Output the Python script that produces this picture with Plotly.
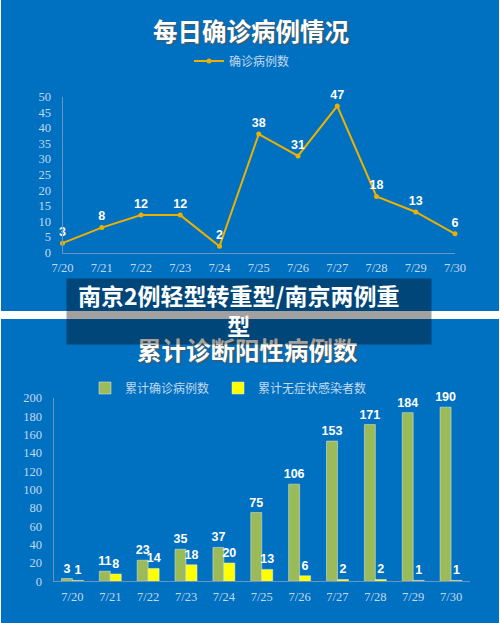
import plotly.graph_objects as go

W, H = 500, 623

dates = ["7/20", "7/21", "7/22", "7/23", "7/24", "7/25", "7/26", "7/27", "7/28", "7/29", "7/30"]
daily = [3, 8, 12, 12, 2, 38, 31, 47, 18, 13, 6]
total = [3, 11, 23, 35, 37, 75, 106, 153, 171, 184, 190]
no_symptom = [1, 8, 14, 18, 20, 13, 6, 2, 2, 1, 1]

BLUE = "#0070c0"
TICK = "#c3d9ee"
AXIS = "#6a93bd"
CJK = "Noto Sans CJK SC"
NUM = "Liberation Sans"
SERIF = "Liberation Serif"


# pixel helpers, the reference was measured in pixels
def px(x):
    return x / W


def py(y):
    return 1 - y / H


fig = go.Figure()

fig.add_trace(go.Scatter(
    x=dates, y=daily, name="确诊病例数", mode="lines+markers+text",
    xaxis="x", yaxis="y", legend="legend", showlegend=True,
    line=dict(color="#ecb000", width=2),
    marker=dict(color="#ecb000", size=5),
    text=daily, textposition="top center",
    textfont=dict(family=NUM, size=12.5, color="white", weight="bold"),
    cliponaxis=False,
))

fig.add_trace(go.Bar(
    x=dates, y=total, name="累计确诊病例数",
    xaxis="x2", yaxis="y2", legend="legend2", showlegend=True,
    marker_color="#9bbb59",
    text=total, textposition="outside", textangle=0, constraintext="none",
    textfont=dict(family=NUM, size=12.5, color="white", weight="bold"),
    cliponaxis=False,
))
fig.add_trace(go.Bar(
    x=dates, y=no_symptom, name="累计无症状感染者数",
    xaxis="x2", yaxis="y2", legend="legend3", showlegend=True,
    marker_color="#ffff00",
    text=no_symptom, textposition="outside", textangle=0, constraintext="none",
    textfont=dict(family=NUM, size=12.5, color="white", weight="bold"),
    cliponaxis=False,
))

axis_common = dict(
    showgrid=False, zeroline=False, showline=True, linecolor=AXIS, linewidth=1,
    ticks="", tickfont=dict(family=SERIF, size=12.5, color=TICK),
)
legend_common = dict(
    yanchor="middle", orientation="h", bgcolor="rgba(0,0,0,0)",
    font=dict(family=CJK, size=12, color=TICK),
)
title_font = dict(family=CJK, size=24.5, color="white", weight="bold",
                  shadow="1px 1px 2px #555")

fig.update_layout(
    width=W, height=H, margin=dict(l=0, r=0, t=0, b=0, autoexpand=False),
    paper_bgcolor="white", plot_bgcolor="rgba(0,0,0,0)",
    barmode="group", bargap=0.42, bargroupgap=0,
    xaxis=dict(axis_common, type="category", range=[0, 10], anchor="y",
               domain=[px(62.5), px(455)], ticklabelstandoff=3),
    yaxis=dict(axis_common, range=[0, 50], dtick=5, anchor="x",
               domain=[py(252.5), py(96.7)], ticklabelstandoff=8),
    xaxis2=dict(axis_common, type="category", range=[-0.5, 10.5], anchor="y2",
                domain=[px(53.5), px(470)], ticklabelstandoff=4),
    yaxis2=dict(axis_common, range=[0, 200], dtick=20, anchor="x2",
                domain=[py(581.3), py(398)], ticklabelstandoff=8),
    legend=dict(legend_common, x=px(242), y=py(61), xanchor="center"),
    legend2=dict(legend_common, x=px(85), y=py(388), xanchor="left"),
    legend3=dict(legend_common, x=px(218), y=py(388), xanchor="left"),
    shapes=[
        dict(type="rect", xref="paper", yref="paper", layer="below", line_width=0,
             fillcolor=BLUE, x0=px(1), x1=px(499), y0=py(311), y1=py(0)),
        dict(type="rect", xref="paper", yref="paper", layer="below", line_width=0,
             fillcolor=BLUE, x0=px(1), x1=px(499), y0=py(623), y1=py(319)),
    ],
    annotations=[
        dict(text="每日确诊病例情况", xref="paper", yref="paper", x=px(251), y=py(31),
             yanchor="middle", showarrow=False, font=title_font),
        dict(text="累计诊断阳性病例数", xref="paper", yref="paper", x=px(247), y=py(349),
             yanchor="middle", showarrow=False, font=title_font),
        # dark banner goes after the titles so it sits on top of the second one
        dict(text=" ", xref="paper", yref="paper",
             x=px(66), y=py(278), xanchor="left", yanchor="top",
             width=362, height=63, bgcolor="rgba(0,0,0,0.37)", showarrow=False),
        dict(text="南京2例轻型转重型/南京两例重<br>型", xref="paper", yref="paper",
             x=px(238.5), y=py(309.5), xanchor="center", yanchor="middle",
             align="center", showarrow=False,
             font=dict(family=CJK, size=23, color="white", weight="bold")),
    ],
)

fig.write_html("out.html", config={"displayModeBar": False},
               post_script="document.body.style.margin='0';")
